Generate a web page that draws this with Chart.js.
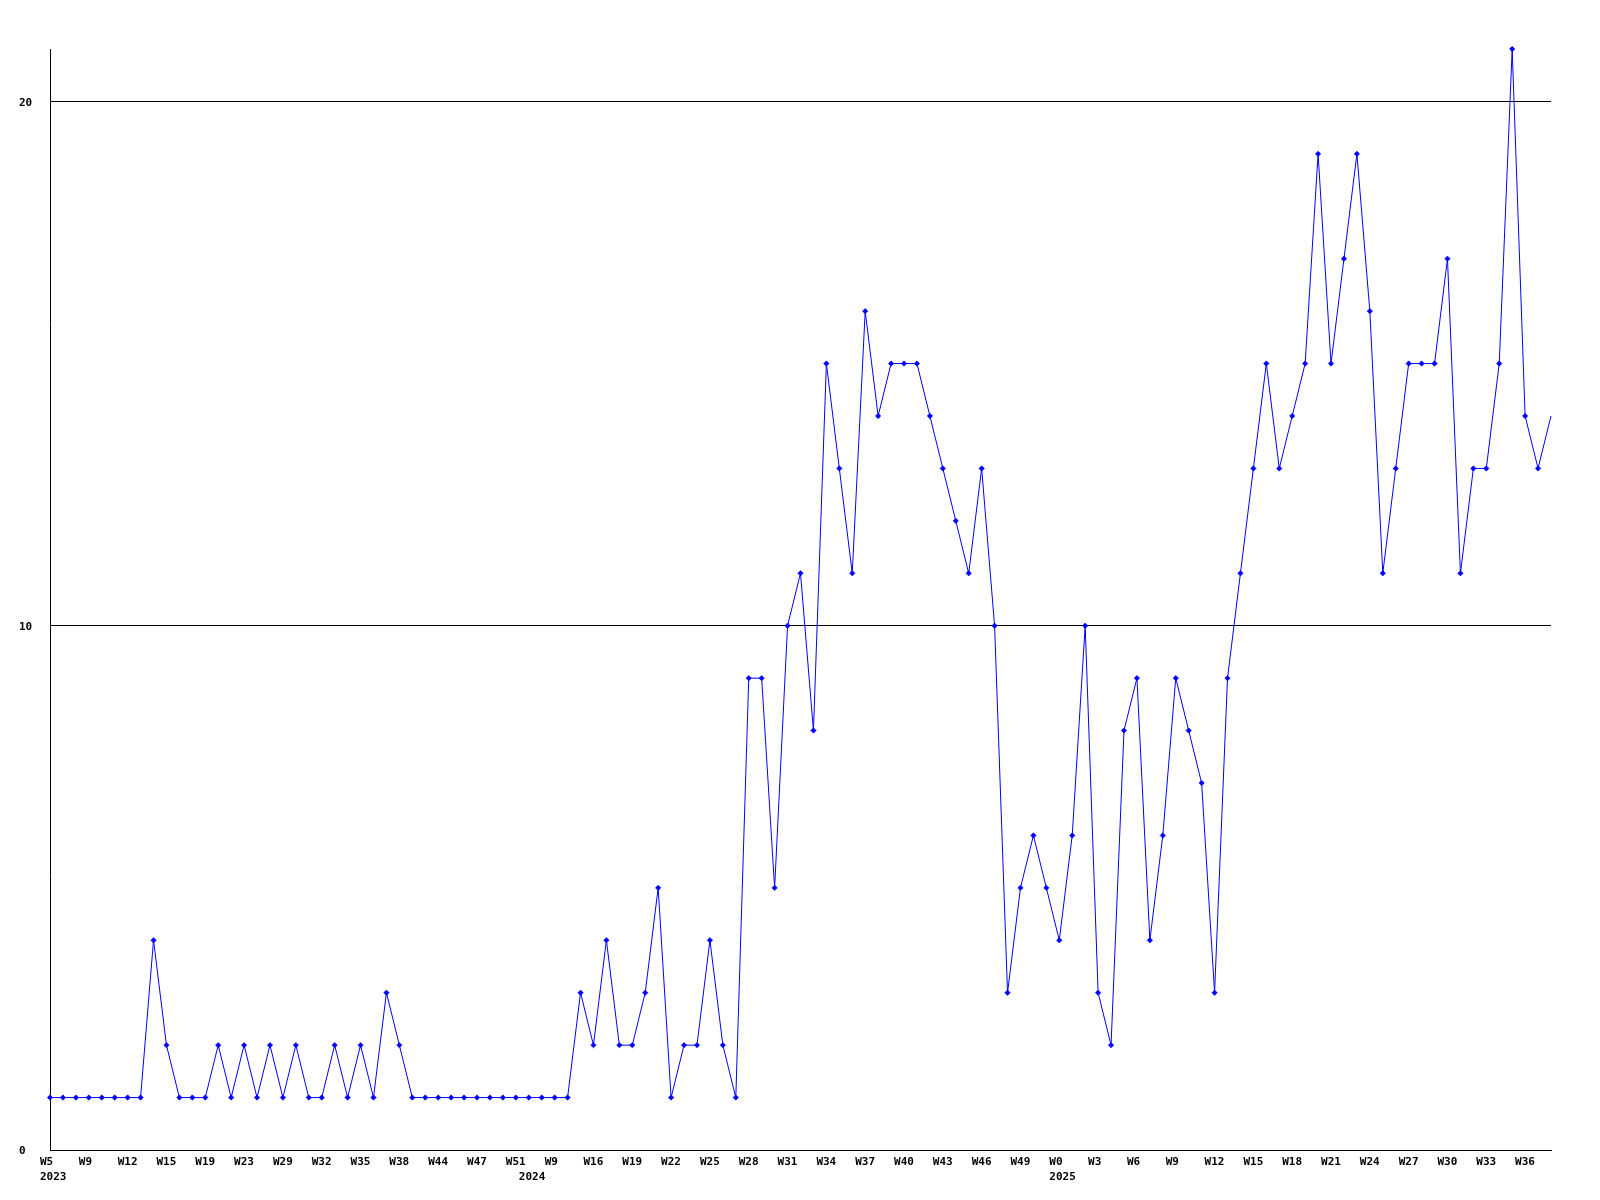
<!DOCTYPE html>
<html>
<head>
<meta charset="utf-8">
<script src="https://cdn.jsdelivr.net/npm/chart.js@4/dist/chart.umd.min.js"></script>
<style>
  html, body { margin: 0; padding: 0; background: #ffffff; }
  #wrap { width: 1600px; height: 1200px; position: relative; }
</style>
</head>
<body>
<div id="wrap"><canvas id="c" width="1600" height="1200"></canvas></div>
<script>
// Weekly counts (one value per week shown)
const values = [
  1,1,1,1,1,1,1,1,4,2,
  1,1,1,2,1,2,1,2,1,2,
  1,1,2,1,2,1,3,2,1,1,
  1,1,1,1,1,1,1,1,1,1,
  1,3,2,4,2,2,3,5,1,2,
  2,4,2,1,9,9,5,10,11,8,
  15,13,11,16,14,15,15,15,14,13,
  12,11,13,10,3,5,6,5,4,6,
  10,3,2,8,9,4,6,9,8,7,
  3,9,11,13,15,13,14,15,19,15,
  17,19,16,11,13,15,15,15,17,11,
  13,13,15,21,14,13,14
];
// Visible week tick labels (every third week point)
const tickLabels = ['W5','W9','W12','W15','W19','W23','W29','W32','W35','W38','W44','W47','W51',
  'W9','W16','W19','W22','W25','W28','W31','W34','W37','W40','W43','W46','W49',
  'W0','W3','W6','W9','W12','W15','W18','W21','W24','W27','W30','W33','W36'];
// Year labels and the week point (index) where each year starts
const yearPointIndex = [0, 37, 78];
const yearLabels = ['2023', '2024', '2025'];
const yTicks = [0, 10, 20];

const tickEvery = 3;
const categories = values.map((_, i) => (i % tickEvery === 0 && tickLabels[i / tickEvery] !== undefined) ? tickLabels[i / tickEvery] : '');

const FONT = { family: '"DejaVu Sans Mono", "Liberation Mono", monospace', size: 11, weight: 'bold', lineHeight: 1.41 };

new Chart(document.getElementById('c'), {
  type: 'line',
  data: {
    labels: categories,
    datasets: [{
      data: values,
      borderColor: '#0000ff',
      backgroundColor: '#0000ff',
      borderWidth: 1,
      tension: 0,
      fill: false,
      pointStyle: 'rectRot',
      pointRadius: (ctx) => ctx.dataIndex === values.length - 1 ? 0 : 2.7,
      pointBorderWidth: 0.6,
      pointBorderColor: '#0000ff',
      pointBackgroundColor: '#0000ff',
      clip: false
    }]
  },
  options: {
    responsive: false,
    animation: false,
    devicePixelRatio: 1,
    layout: { padding: { left: 19, top: 49, right: 49, bottom: 0 } },
    plugins: { legend: { display: false }, tooltip: { enabled: false }, title: { display: false } },
    scales: {
      x: {
        type: 'category',
        offset: false,
        grid: { display: false, drawTicks: false },
        border: { display: true, color: '#000000', width: 1 },
        ticks: {
          autoSkip: false,
          maxRotation: 0,
          minRotation: 0,
          padding: 4,
          align: 'start',
          labelOffset: -10,
          color: '#000000',
          font: FONT,
          callback: function(value, index) {
            const week = categories[index] || '';
            const yi = yearPointIndex.indexOf(index);
            if (yi >= 0) return [week, yearLabels[yi]];
            return week;
          }
        },
        afterFit: (scale) => { scale.height = 50; }
      },
      y: {
        type: 'linear',
        min: 0,
        max: 21,
        grid: { display: true, color: '#000000', lineWidth: 1, drawTicks: false },
        border: { display: true, color: '#000000', width: 1 },
        ticks: {
          stepSize: 10,
          includeBounds: false,
          crossAlign: 'far',
          padding: 0,
          labelOffset: 1.5,
          color: '#000000',
          font: FONT,
          callback: (v) => yTicks.includes(v) ? String(v) : ''
        },
        afterFit: (scale) => { scale.width = 31; }
      }
    }
  }
});
</script>
</body>
</html>
